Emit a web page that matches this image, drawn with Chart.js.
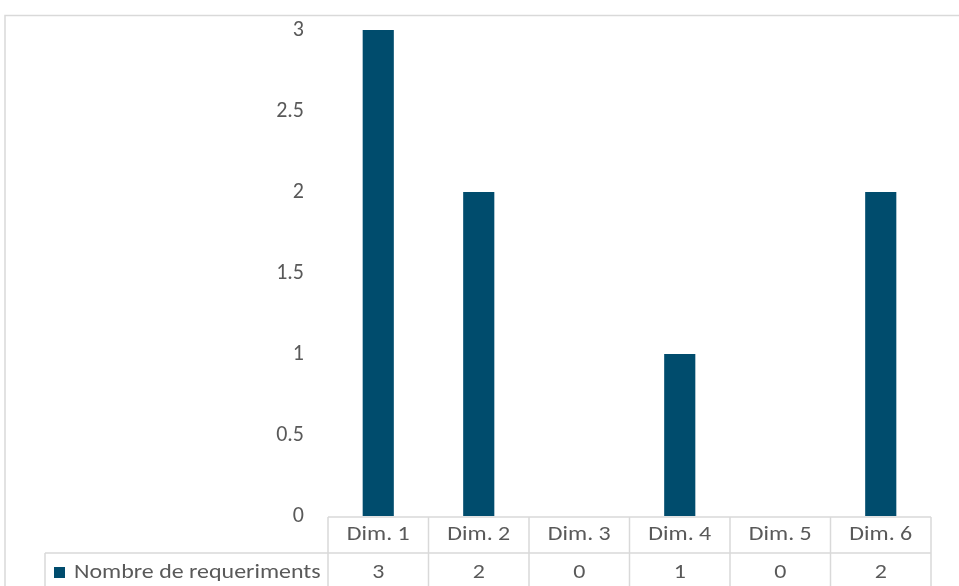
<!DOCTYPE html>
<html>
<head>
<meta charset="utf-8">
<script src="https://cdn.jsdelivr.net/npm/chart.js@4/dist/chart.umd.min.js"></script>
<style>
  html, body { margin: 0; padding: 0; background: #ffffff; }
  #wrap { position: relative; width: 959px; height: 586px; }
</style>
</head>
<body>
<div id="wrap"><canvas id="chart"></canvas></div>
<script>
// Requirement counts per dimension
const categories = ['Dim. 1', 'Dim. 2', 'Dim. 3', 'Dim. 4', 'Dim. 5', 'Dim. 6'];
const seriesName = 'Nombre de requeriments';
const requirementCounts = [3, 2, 0, 1, 0, 2];
const yTicks = [0, 0.5, 1, 1.5, 2, 2.5, 3];

const BAR_COLOR = '#004c6d';
const TEXT_COLOR = '#595959';
const LINE_COLOR = '#d9d9d9';
const FONT_FAMILY = "Carlito, 'Open Sans', 'Noto Sans', sans-serif";
const TABLE_FONT_SIZE = 21;
const TEXT_STRETCH = 1.14;

// Text drawn slightly widened, as in the table cells
function drawWideText(ctx, text, x, y) {
  ctx.save();
  ctx.translate(x, y);
  ctx.scale(TEXT_STRETCH, 1);
  ctx.fillText(text, 0, 0);
  ctx.restore();
}

// Draws the chart frame and the data table beneath the plot area
const dataTablePlugin = {
  id: 'dataTable',
  afterDraw(chart) {
    const { ctx, chartArea, scales } = chart;
    const x = scales.x;
    const row1Top = chartArea.bottom;
    const row2Top = row1Top + 37;
    const rowBottom = chart.height + 2;
    const labelLeft = 45;

    ctx.save();
    ctx.strokeStyle = LINE_COLOR;
    ctx.lineWidth = 1.5;

    // outer frame (top and left edges)
    ctx.beginPath();
    ctx.moveTo(5, chart.height);
    ctx.lineTo(5, 15.5);
    ctx.lineTo(chart.width, 15.5);
    ctx.stroke();

    // category boundaries
    const n = categories.length;
    const step = x.getPixelForValue(1) - x.getPixelForValue(0);
    const bounds = [];
    for (let i = 0; i <= n; i++) {
      bounds.push(x.getPixelForValue(0) - step / 2 + i * step);
    }

    ctx.beginPath();
    ctx.moveTo(bounds[0], row1Top + 1);
    ctx.lineTo(bounds[n], row1Top + 1);
    ctx.moveTo(labelLeft, row2Top);
    ctx.lineTo(bounds[n], row2Top);
    bounds.forEach(b => {
      ctx.moveTo(b, row1Top + 1);
      ctx.lineTo(b, rowBottom);
    });
    ctx.moveTo(labelLeft, row2Top);
    ctx.lineTo(labelLeft, rowBottom);
    ctx.stroke();

    // header and value texts
    ctx.fillStyle = TEXT_COLOR;
    ctx.font = `${TABLE_FONT_SIZE}px ${FONT_FAMILY}`;
    ctx.textAlign = 'center';
    ctx.textBaseline = 'middle';
    categories.forEach((c, i) => {
      const cx = x.getPixelForValue(i);
      drawWideText(ctx, c, cx, row1Top + 19);
      drawWideText(ctx, String(requirementCounts[i]), cx, row2Top + 20);
    });

    // legend key and series name
    ctx.fillStyle = BAR_COLOR;
    ctx.fillRect(54, row2Top + 14, 11, 11);
    ctx.fillStyle = TEXT_COLOR;
    ctx.textAlign = 'left';
    drawWideText(ctx, seriesName, 74, row2Top + 20);
    ctx.restore();
  }
};

new Chart(document.getElementById('chart'), {
  type: 'bar',
  data: {
    labels: categories,
    datasets: [{
      label: seriesName,
      data: requirementCounts,
      backgroundColor: BAR_COLOR,
      borderWidth: 0,
      categoryPercentage: 1,
      barPercentage: 0.31
    }]
  },
  options: {
    responsive: true,
    maintainAspectRatio: false,
    animation: false,
    layout: { padding: { top: 30, right: 28, bottom: 70, left: 0 } },
    plugins: {
      legend: { display: false },
      tooltip: { enabled: false }
    },
    scales: {
      x: { display: false },
      y: {
        min: 0,
        max: 3,
        afterFit(scale) { scale.width = 328; },
        afterBuildTicks(scale) { scale.ticks = yTicks.map(v => ({ value: v })); },
        grid: { display: false },
        border: { display: false },
        ticks: {
          padding: 16,
          color: TEXT_COLOR,
          font: { family: FONT_FAMILY, size: 22 },
          callback: v => String(v)
        }
      }
    }
  },
  plugins: [dataTablePlugin]
});
</script>
</body>
</html>
